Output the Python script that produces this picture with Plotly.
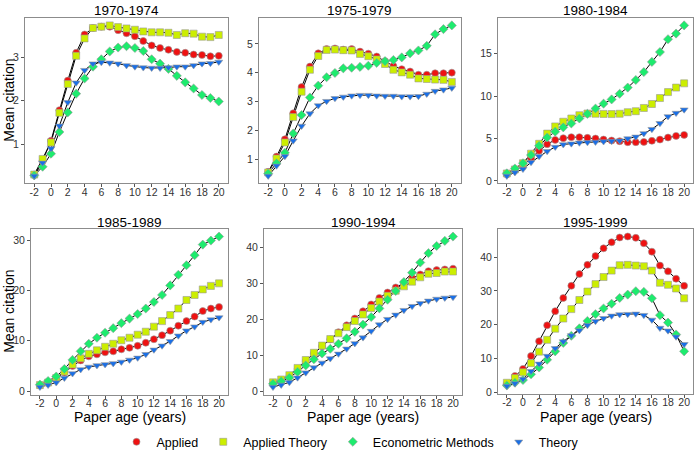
import plotly.graph_objects as go

ages = list(range(-2, 21))
x_ticks = list(range(-2, 21, 2))

periods = ["1970-1974", "1975-1979", "1980-1984", "1985-1989", "1990-1994", "1995-1999"]
series_names = ["Applied", "Applied Theory", "Econometric Methods", "Theory"]

applied_7074 = [0.30, 0.62, 1.08, 1.78, 2.46, 3.10, 3.52, 3.67, 3.70, 3.70, 3.62, 3.55, 3.48, 3.37, 3.27, 3.21, 3.17, 3.12, 3.10, 3.06, 3.05, 3.02, 3.03]
apptheory_7074 = [0.30, 0.66, 1.04, 1.72, 2.38, 3.03, 3.43, 3.67, 3.70, 3.73, 3.69, 3.66, 3.63, 3.59, 3.57, 3.57, 3.56, 3.51, 3.55, 3.54, 3.47, 3.46, 3.51]
econ_7074 = [0.28, 0.48, 0.78, 1.28, 1.73, 2.16, 2.51, 2.78, 2.95, 3.13, 3.22, 3.25, 3.21, 3.14, 2.95, 2.85, 2.73, 2.57, 2.42, 2.28, 2.13, 2.06, 1.98]
theory_7074 = [0.27, 0.57, 0.90, 1.42, 1.96, 2.41, 2.70, 2.85, 2.88, 2.87, 2.85, 2.81, 2.78, 2.76, 2.75, 2.75, 2.76, 2.78, 2.78, 2.81, 2.85, 2.86, 2.89]

applied_7579 = [0.56, 1.09, 1.69, 2.59, 3.50, 4.21, 4.67, 4.82, 4.84, 4.80, 4.82, 4.73, 4.66, 4.56, 4.40, 4.23, 4.12, 4.04, 3.93, 3.93, 3.98, 3.98, 4.00]
apptheory_7579 = [0.54, 1.02, 1.58, 2.46, 3.34, 4.10, 4.58, 4.79, 4.80, 4.78, 4.77, 4.65, 4.57, 4.46, 4.30, 4.10, 4.01, 3.93, 3.80, 3.78, 3.76, 3.75, 3.68]
econ_7579 = [0.50, 0.86, 1.22, 1.89, 2.53, 3.14, 3.55, 3.84, 3.99, 4.15, 4.17, 4.20, 4.24, 4.34, 4.40, 4.44, 4.53, 4.67, 4.77, 4.93, 5.33, 5.51, 5.64]
theory_7579 = [0.42, 0.77, 1.10, 1.64, 2.15, 2.58, 2.86, 3.01, 3.11, 3.16, 3.20, 3.22, 3.22, 3.20, 3.19, 3.19, 3.17, 3.17, 3.18, 3.26, 3.36, 3.41, 3.47]

applied_8084 = [0.78, 1.28, 1.74, 2.71, 3.57, 4.34, 4.84, 5.04, 5.16, 5.16, 5.08, 5.00, 4.88, 4.77, 4.69, 4.57, 4.57, 4.60, 4.73, 4.88, 5.12, 5.31, 5.43]
apptheory_8084 = [0.89, 1.36, 2.09, 3.22, 4.38, 5.58, 6.43, 6.98, 7.36, 7.75, 7.95, 7.92, 7.90, 7.88, 7.92, 8.10, 8.22, 8.60, 9.07, 9.77, 10.47, 11.00, 11.50]
econ_8084 = [0.90, 1.47, 2.09, 3.06, 4.15, 5.12, 5.81, 6.32, 6.78, 7.36, 7.91, 8.53, 9.11, 9.61, 10.27, 11.00, 11.90, 12.83, 14.03, 15.19, 16.70, 17.36, 18.33]
theory_8084 = [0.60, 1.00, 1.40, 2.20, 2.90, 3.50, 4.00, 4.30, 4.40, 4.50, 4.55, 4.60, 4.65, 4.70, 4.75, 5.00, 5.20, 5.60, 6.10, 6.80, 7.60, 8.00, 8.40]

applied_8589 = [1.1, 1.6, 2.5, 3.7, 5.0, 6.1, 6.9, 7.3, 7.7, 7.9, 8.3, 8.6, 9.0, 9.6, 10.3, 11.1, 12.0, 13.0, 13.9, 14.8, 15.9, 16.4, 16.7]
apptheory_8589 = [1.2, 1.7, 2.6, 3.9, 5.3, 6.5, 7.4, 8.1, 8.8, 9.4, 10.1, 10.6, 11.2, 11.8, 12.8, 13.9, 15.1, 16.4, 18.1, 19.1, 20.2, 20.9, 21.4]
econ_8589 = [1.3, 2.0, 2.9, 4.4, 6.2, 7.9, 9.4, 10.6, 11.6, 12.5, 13.5, 14.4, 15.3, 16.4, 17.7, 19.1, 21.0, 23.1, 25.0, 27.0, 29.1, 29.9, 30.7]
theory_8589 = [0.8, 1.2, 1.7, 2.6, 3.5, 4.3, 4.8, 5.1, 5.3, 5.5, 5.8, 6.2, 6.6, 7.3, 8.2, 9.0, 9.9, 11.0, 12.0, 12.8, 13.7, 14.2, 14.6]

applied_9094 = [2.3, 3.2, 4.3, 6.3, 8.5, 10.6, 12.6, 14.5, 16.5, 18.4, 20.3, 22.3, 24.2, 26.0, 27.5, 28.9, 30.2, 31.5, 32.5, 33.4, 33.7, 33.9, 34.1]
apptheory_9094 = [2.6, 3.4, 4.6, 6.6, 8.8, 10.8, 12.8, 14.6, 16.2, 17.9, 19.6, 21.4, 23.2, 25.0, 26.6, 28.0, 29.2, 30.5, 31.7, 32.7, 32.9, 33.3, 33.3]
econ_9094 = [2.2, 2.9, 3.9, 5.5, 7.3, 9.0, 10.6, 11.9, 13.3, 14.8, 16.6, 18.6, 20.7, 23.1, 25.5, 27.9, 30.4, 33.0, 35.8, 38.4, 40.4, 41.8, 43.0]
theory_9094 = [1.3, 1.9, 2.6, 3.9, 5.3, 6.7, 8.0, 9.2, 10.5, 11.9, 13.4, 15.0, 16.8, 18.6, 20.1, 21.3, 22.6, 23.7, 24.5, 25.2, 25.7, 26.0, 26.2]

applied_9599 = [2.5, 4.8, 6.9, 10.7, 15.1, 19.8, 24.0, 27.9, 31.5, 35.0, 37.7, 40.3, 42.6, 44.4, 45.8, 46.1, 45.7, 44.1, 41.6, 37.5, 35.8, 33.6, 31.5]
apptheory_9599 = [2.8, 4.2, 5.9, 8.6, 12.0, 15.5, 18.8, 21.8, 24.6, 27.3, 29.8, 32.0, 34.1, 36.0, 37.6, 37.7, 37.5, 37.3, 36.0, 32.4, 31.8, 30.7, 27.8]
econ_9599 = [2.0, 2.8, 3.6, 5.3, 7.3, 9.6, 12.1, 14.6, 16.7, 18.9, 21.1, 23.1, 24.8, 26.2, 27.9, 28.9, 29.9, 29.7, 27.8, 22.8, 20.6, 17.1, 12.1]
theory_9599 = [1.8, 2.6, 3.9, 6.2, 8.4, 10.7, 13.0, 15.0, 16.8, 18.3, 19.8, 21.0, 21.9, 22.6, 23.0, 23.1, 23.2, 22.8, 21.4, 19.0, 18.2, 16.4, 14.2]

panel_data = [
    [applied_7074, apptheory_7074, econ_7074, theory_7074],
    [applied_7579, apptheory_7579, econ_7579, theory_7579],
    [applied_8084, apptheory_8084, econ_8084, theory_8084],
    [applied_8589, apptheory_8589, econ_8589, theory_8589],
    [applied_9094, apptheory_9094, econ_9094, theory_9094],
    [applied_9599, apptheory_9599, econ_9599, theory_9599],
]

y_ticks = [[1, 2, 3], [1, 2, 3, 4, 5], [0, 5, 10, 15], [0, 10, 20, 30], [0, 10, 20, 30, 40], [0, 10, 20, 30, 40]]

colors = ["#EE1111", "#CCEE00", "#1EEB6E", "#1A6FE6"]
symbols = ["circle", "square", "diamond", "triangle-down"]

W, H = 700, 467
# panel frames in pixels: (left, right, top, bottom)
frames = [
    (25, 228, 18, 185),
    (259, 461, 18, 185),
    (498, 693, 18, 185),
    (31, 228, 231, 398),
    (264, 462, 231, 398),
    (498, 693, 231, 397),
]

fig = go.Figure()
annotations = []
font_family = "Liberation Sans, Arial, sans-serif"

for p, (period, data) in enumerate(zip(periods, panel_data)):
    xa = "x" if p == 0 else f"x{p+1}"
    ya = "y" if p == 0 else f"y{p+1}"
    for s, vals in enumerate(data):
        fig.add_trace(go.Scatter(x=ages, y=vals, mode="lines", xaxis=xa, yaxis=ya,
                                 line=dict(color="black", width=1), showlegend=False, hoverinfo="skip"))
    for s, vals in enumerate(data):
        fig.add_trace(go.Scatter(x=ages, y=vals, mode="markers", xaxis=xa, yaxis=ya,
                                 name=series_names[s], legendgroup=series_names[s],
                                 showlegend=(p == 0),
                                 marker=dict(color=colors[s], symbol=symbols[s], size=7,
                                             line=dict(color="#999999", width=0.6))))
    l, r, t, b = frames[p]
    allv = [v for ser in data for v in ser]
    lo, hi = min(allv), max(allv)
    pad = 0.05 * (hi - lo)
    axis_common = dict(showgrid=False, zeroline=False, showline=True, mirror=True,
                       linecolor="#8C8C8C", linewidth=1, ticks="outside", ticklen=3,
                       tickcolor="#555555", tickfont=dict(size=10.5, color="#333333", family=font_family))
    fig.update_layout(**{
        ("xaxis" if p == 0 else f"xaxis{p+1}"): dict(
            domain=[l / W, r / W], anchor=ya, range=[-3.1, 21.1], ticklabelstandoff=-4,
            tickmode="array", tickvals=x_ticks, ticktext=[str(v) for v in x_ticks], **axis_common),
        ("yaxis" if p == 0 else f"yaxis{p+1}"): dict(
            domain=[1 - b / H, 1 - t / H], anchor=xa, range=[lo - pad, hi + pad],
            tickmode="array", tickvals=y_ticks[p], **axis_common),
    })
    annotations.append(dict(text=period, x=(l + r) / 2 / W, y=1 - t / H, xref="paper", yref="paper",
                            xanchor="center", yanchor="middle", yshift=7, showarrow=False,
                            font=dict(size=13.5, color="black", family=font_family)))
    if p in (0, 3):
        annotations.append(dict(text="Mean citation", x=9 / W, y=1 - (t + b) / 2 / H, xref="paper", yref="paper",
                                xanchor="center", yanchor="middle", textangle=-90, showarrow=False,
                                font=dict(size=14, color="black", family=font_family)))
    if p >= 3:
        annotations.append(dict(text="Paper age (years)", x=(l + r) / 2 / W, y=1 - 421 / H, xref="paper", yref="paper",
                                xanchor="center", yanchor="middle", showarrow=False,
                                font=dict(size=14, color="black", family=font_family)))

fig.update_layout(
    width=W, height=H,
    margin=dict(l=0, r=0, t=0, b=0),
    paper_bgcolor="white", plot_bgcolor="white",
    annotations=annotations,
    showlegend=True,
    legend=dict(orientation="h", x=0.5, xanchor="center", y=1 - 446 / H, yanchor="middle",
                font=dict(size=12.5, color="black", family=font_family),
                itemwidth=30, tracegroupgap=0, bgcolor="rgba(0,0,0,0)"),
    font=dict(family=font_family),
)

fig.write_html("out.html", config={"displayModeBar": False},
               post_script="document.body.style.margin='0px';")
